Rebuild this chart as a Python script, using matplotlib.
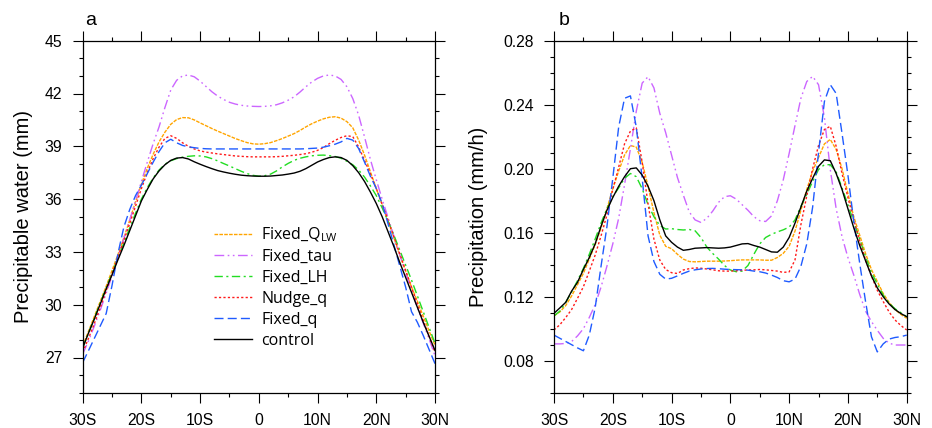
import matplotlib
matplotlib.use("Agg")
import matplotlib.pyplot as plt
from matplotlib.ticker import FixedLocator, MultipleLocator

plt.rcParams['font.family'] = ['Liberation Sans', 'DejaVu Sans']
plt.rcParams['mathtext.fontset'] = 'custom'
plt.rcParams['mathtext.rm'] = 'Open Sans'

# ---------------- data ----------------
lat = list(range(-30, 31))
lon_ticks = [-30, -20, -10, 0, 10, 20, 30]
lon_labels = ["30S", "20S", "10S", "0", "10N", "20N", "30N"]

# Panel a: precipitable water (mm)
pw_control = [27.55, 28.4, 29.2, 30.05, 30.9, 31.7, 32.55, 33.35, 34.2, 35.05,
              35.9, 36.55, 37.15, 37.6, 37.95, 38.2, 38.33, 38.36, 38.28, 38.12,
              37.98, 37.85, 37.73, 37.62, 37.54, 37.47, 37.41, 37.36, 37.33, 37.31,
              37.3, 37.3, 37.31, 37.34, 37.37, 37.42, 37.48, 37.58, 37.73, 37.92,
              38.11, 38.25, 38.36, 38.4, 38.36, 38.2, 37.9, 37.5, 37.0, 36.4,
              35.75, 35.0, 34.15, 33.3, 32.4, 31.55, 30.7, 29.85, 29.0, 28.2, 27.4]
pw_fixed_lh = [27.55, 28.4, 29.25, 30.1, 30.95, 31.8, 32.65, 33.5, 34.35, 35.2,
               36.0, 36.65, 37.2, 37.65, 37.98, 38.18, 38.3, 38.38, 38.43, 38.46,
               38.45, 38.4, 38.3, 38.17, 38.02, 37.88, 37.73, 37.58, 37.45, 37.35,
               37.3, 37.33, 37.42, 37.6, 37.83, 38.03, 38.2, 38.32, 38.4, 38.46,
               38.49, 38.5, 38.47, 38.42, 38.32, 38.15, 37.95, 37.65, 37.25, 36.75,
               36.2, 35.5, 34.75, 33.95, 33.1, 32.25, 31.4, 30.5, 29.6, 28.7, 27.8]
pw_fixed_qlw = [27.65, 28.5, 29.35, 30.2, 31.05, 31.95, 32.85, 33.8, 34.8, 35.85,
                36.85, 37.75, 38.55, 39.25, 39.8, 40.25, 40.52, 40.63, 40.62, 40.5,
                40.33, 40.17, 40.01, 39.86, 39.72, 39.58, 39.44, 39.32, 39.21, 39.14,
                39.12, 39.15, 39.21, 39.32, 39.44, 39.58, 39.72, 39.9, 40.1, 40.28,
                40.43, 40.56, 40.65, 40.68, 40.6, 40.4, 40.05, 39.35, 38.5, 37.55,
                36.6, 35.7, 34.8, 33.8, 32.8, 31.9, 31.0, 30.2, 29.35, 28.5, 27.7]
pw_fixed_tau = [27.2, 27.95, 28.8, 29.7, 30.65, 31.65, 32.7, 33.75, 34.8, 35.9,
                37.0, 38.1, 39.15, 40.1, 41.2, 42.2, 42.75, 43.0, 43.05, 42.95,
                42.7, 42.4, 42.1, 41.85, 41.66, 41.5, 41.4, 41.33, 41.29, 41.27,
                41.26, 41.27, 41.3, 41.36, 41.47, 41.62, 41.81, 42.08, 42.38, 42.65,
                42.86, 43.0, 43.05, 43.0, 42.8, 42.38, 41.71, 40.76, 39.53, 38.25,
                37.1, 36.0, 34.95, 33.9, 32.85, 31.8, 30.8, 29.85, 28.95, 28.05, 27.1]
pw_nudge_q = [27.3, 28.1, 28.95, 29.85, 30.8, 31.75, 32.7, 33.65, 34.6, 35.6,
              36.6, 37.5, 38.3, 38.95, 39.45, 39.6, 39.45, 39.2, 39.0, 38.85,
              38.74, 38.67, 38.62, 38.57, 38.53, 38.49, 38.45, 38.43, 38.41, 38.4,
              38.4, 38.4, 38.4, 38.41, 38.43, 38.46, 38.49, 38.53, 38.58, 38.66,
              38.77, 38.93, 39.15, 39.34, 39.5, 39.6, 39.55, 38.96, 38.2, 37.44,
              36.6, 35.7, 34.8, 33.85, 32.9, 31.95, 31.0, 30.05, 29.1, 28.2, 27.3]
pw_fixed_q = [26.72, 27.4, 28.1, 28.8, 29.5, 31.1, 32.9, 34.4, 35.4, 36.2,
              36.8, 37.45, 38.1, 38.7, 39.2, 39.4, 39.2, 39.05, 38.97, 38.92,
              38.88, 38.86, 38.85, 38.85, 38.85, 38.85, 38.85, 38.85, 38.85, 38.85,
              38.85, 38.85, 38.85, 38.85, 38.85, 38.85, 38.85, 38.85, 38.86, 38.88,
              38.9, 38.95, 39.03, 39.12, 39.25, 39.45, 39.35, 38.87, 38.1, 37.3,
              36.6, 35.75, 34.6, 33.4, 32.2, 31.0, 29.6, 29.0, 28.25, 27.45, 26.65]

# Panel b: precipitation (mm/h)
pr_control = [0.1096, 0.113, 0.1165, 0.1235, 0.129, 0.137, 0.1445, 0.153, 0.164, 0.174,
              0.182, 0.189, 0.195, 0.2, 0.2005, 0.196, 0.189, 0.18, 0.168, 0.158,
              0.154, 0.151, 0.149, 0.1495, 0.1503, 0.1505, 0.1507, 0.1505, 0.1503, 0.1505,
              0.151, 0.152, 0.153, 0.1532, 0.152, 0.151, 0.1495, 0.148, 0.1478, 0.151,
              0.157, 0.166, 0.176, 0.186, 0.194, 0.2015, 0.2055, 0.205, 0.197, 0.187,
              0.175, 0.163, 0.152, 0.1425, 0.133, 0.1255, 0.12, 0.1155, 0.112, 0.1095, 0.1075]
pr_fixed_lh = [0.108, 0.111, 0.1165, 0.123, 0.130, 0.1377, 0.1465, 0.156, 0.166, 0.175,
               0.1825, 0.188, 0.194, 0.197, 0.195, 0.1875, 0.1775, 0.170, 0.1645, 0.1623,
               0.1625, 0.162, 0.1617, 0.162, 0.1612, 0.157, 0.151, 0.147, 0.1435, 0.1395,
               0.1367, 0.1356, 0.136, 0.1395, 0.1465, 0.153, 0.157, 0.159, 0.1605, 0.1618,
               0.1635, 0.168, 0.1765, 0.184, 0.192, 0.1995, 0.2025, 0.2025, 0.198, 0.188,
               0.1775, 0.1665, 0.156, 0.145, 0.135, 0.128, 0.121, 0.116, 0.1125, 0.110, 0.1075]
pr_fixed_qlw = [0.108, 0.1105, 0.1145, 0.1205, 0.1275, 0.1346, 0.1435, 0.1525, 0.163, 0.175,
                0.1875, 0.1985, 0.2085, 0.2145, 0.2135, 0.204, 0.189, 0.1725, 0.1585, 0.1515,
                0.150, 0.1465, 0.1435, 0.142, 0.1418, 0.142, 0.1422, 0.1422, 0.1422, 0.1423,
                0.1425, 0.1428, 0.143, 0.143, 0.143, 0.143, 0.1428, 0.1428, 0.1445, 0.1471,
                0.1515, 0.161, 0.174, 0.187, 0.1985, 0.207, 0.2155, 0.2183, 0.212, 0.2,
                0.1845, 0.170, 0.1585, 0.147, 0.137, 0.1295, 0.122, 0.1165, 0.112, 0.109, 0.1065]
pr_fixed_tau = [0.0905, 0.0905, 0.0908, 0.092, 0.0955, 0.100, 0.107, 0.115, 0.126, 0.139,
                0.153, 0.169, 0.190, 0.2125, 0.236, 0.2535, 0.2575, 0.2505, 0.2346, 0.2225,
                0.2085, 0.1945, 0.1835, 0.173, 0.168, 0.1664, 0.169, 0.1735, 0.179, 0.1825,
                0.1831, 0.181, 0.1775, 0.174, 0.170, 0.1675, 0.167, 0.1705, 0.180, 0.193,
                0.2095, 0.227, 0.244, 0.2545, 0.2577, 0.2525, 0.232, 0.1995, 0.175, 0.1575,
                0.1445, 0.1335, 0.1215, 0.111, 0.1045, 0.099, 0.094, 0.091, 0.0898, 0.0898, 0.0898]
pr_nudge_q = [0.0992, 0.1025, 0.107, 0.112, 0.119, 0.1262, 0.136, 0.146, 0.158, 0.171,
              0.187, 0.201, 0.2155, 0.2235, 0.2255, 0.204, 0.178, 0.156, 0.1429, 0.137,
              0.135, 0.1345, 0.1367, 0.1375, 0.138, 0.1378, 0.1373, 0.1368, 0.1362, 0.136,
              0.136, 0.1362, 0.1365, 0.1367, 0.1368, 0.137, 0.1368, 0.1364, 0.136, 0.1352,
              0.1355, 0.143, 0.165, 0.183, 0.2, 0.2145, 0.2245, 0.2265, 0.214, 0.197,
              0.182, 0.168, 0.155, 0.143, 0.133, 0.124, 0.117, 0.1105, 0.1055, 0.102, 0.0992]
pr_fixed_q = [0.096, 0.094, 0.092, 0.090, 0.088, 0.0862, 0.096, 0.113, 0.139, 0.1637,
              0.194, 0.226, 0.244, 0.2455, 0.226, 0.194, 0.158, 0.142, 0.134, 0.131,
              0.1315, 0.133, 0.1346, 0.136, 0.1368, 0.1373, 0.1376, 0.1377, 0.1375, 0.1372,
              0.137, 0.1369, 0.1368, 0.1366, 0.136, 0.1356, 0.1348, 0.1335, 0.132, 0.130,
              0.1293, 0.131, 0.139, 0.153, 0.176, 0.21, 0.242, 0.2525, 0.247, 0.222,
              0.196, 0.167, 0.141, 0.117, 0.095, 0.0855, 0.0905, 0.0935, 0.0945, 0.095, 0.096]

series_names = [r"Fixed_Q$_{\mathregular{LW}}$", "Fixed_tau", "Fixed_LH", "Nudge_q", "Fixed_q", "control"]
pw_series = [pw_fixed_qlw, pw_fixed_tau, pw_fixed_lh, pw_nudge_q, pw_fixed_q, pw_control]
pr_series = [pr_fixed_qlw, pr_fixed_tau, pr_fixed_lh, pr_nudge_q, pr_fixed_q, pr_control]

# ---------------- styles ----------------
colors = ["#FFA500", "#CC66FF", "#22DD22", "#FF1A1A", "#1F5BFF", "#000000"]
dashes = [(0, (2.6, 0.9)),
          (0, (7, 2.5, 1.2, 2.5, 1.2, 2.5)),
          (0, (6, 2.5, 1.5, 2.5)),
          (0, (1.6, 1.6)),
          (0, (6.5, 3)),
          "-"]
lw = 1.0

W, H = 932, 428
fig = plt.figure(figsize=(W / 100, H / 100), dpi=100)
ax1 = fig.add_axes([82.7 / W, 1 - 392.7 / H, 352.3 / W, 352.0 / H])
ax2 = fig.add_axes([554.0 / W, 1 - 392.7 / H, 352.7 / W, 352.0 / H])

for ax, data in ((ax1, pw_series), (ax2, pr_series)):
    for name, vals, c, ls in zip(series_names, data, colors, dashes):
        ax.plot(lat, vals, color=c, linestyle=ls, linewidth=lw, label=name)
    ax.set_xlim(-30, 30)
    ax.xaxis.set_major_locator(FixedLocator(lon_ticks))
    ax.set_xticklabels(lon_labels)
    ax.xaxis.set_minor_locator(MultipleLocator(5))
    ax.tick_params(which='both', direction='out', top=True, right=True,
                   labeltop=False, labelright=False, width=0.8)
    ax.tick_params(which='major', length=7.2, pad=7.5, labelsize=11.3)
    ax.tick_params(which='minor', length=3.1)
    for s in ax.spines.values():
        s.set_linewidth(0.9)

ax1.set_ylim(25, 45)
ax1.yaxis.set_major_locator(FixedLocator([27, 30, 33, 36, 39, 42, 45]))
ax1.yaxis.set_minor_locator(MultipleLocator(1))
ax1.set_ylabel("Precipitable water (mm)", fontsize=14.5)
ax1.yaxis.set_label_coords(-0.14, 0.5)

ax2.set_ylim(0.06, 0.28)
yt2 = [0.08, 0.12, 0.16, 0.20, 0.24, 0.28]
ax2.yaxis.set_major_locator(FixedLocator(yt2))
ax2.set_yticklabels([f"{v:.2f}" for v in yt2])
ax2.yaxis.set_minor_locator(MultipleLocator(0.01))
ax2.set_ylabel("Precipitation (mm/h)", fontsize=14.5)
ax2.yaxis.set_label_coords(-0.188, 0.5)

fig.text(85 / W, 1 - 25 / H, "a", fontsize=14, ha='left', va='baseline')
fig.text(559 / W, 1 - 25 / H, "b", fontsize=14, ha='left', va='baseline')

leg = ax1.legend(loc='upper left', bbox_to_anchor=(214 / W, 1 - 225.5 / H),
                 bbox_transform=fig.transFigure, frameon=False,
                 prop={'family': ['Open Sans', 'DejaVu Sans'], 'size': 11.5},
                 handlelength=2.4, handletextpad=0.55, labelspacing=0.31,
                 borderpad=0, borderaxespad=0)

fig.savefig("out.png", dpi=100)
